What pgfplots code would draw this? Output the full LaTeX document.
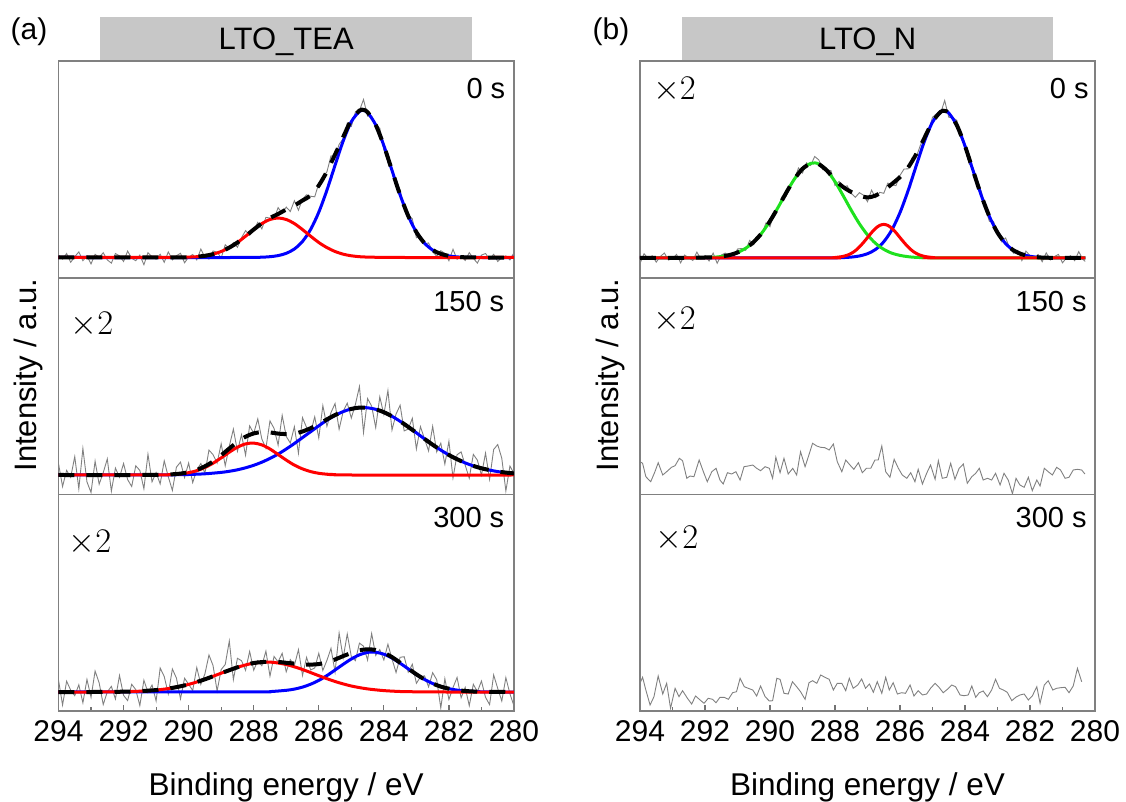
\documentclass[border=0pt]{standalone}
\usepackage{fontspec}
\setmainfont{Liberation Sans}
\usepackage{pgfplots}
\pgfplotsset{compat=1.18}
\definecolor{fitgreen}{RGB}{30,225,30}
\pgfplotsset{
  panel/.style={scale only axis, width=227.75pt, height=108.35pt,
    xmin=280, xmax=294, x dir=reverse, ymin=0, ymax=216.7,
    anchor=south west, ytick=\empty, xtick=\empty,
    axis line style={draw=black!50, line width=0.75pt}},
  bottompanel/.style={panel, xtick={280,282,...,294}, minor xtick={281,283,...,293},
    xtick pos=left, tick align=inside, major tick length=3pt, minor tick length=1.8pt,
    every tick/.style={draw=black!55, line width=0.6pt},
    xticklabel style={font=\fontsize{15}{18}\selectfont, yshift=-1pt},
    /pgf/number format/assume math mode=true},
  raw/.style={draw=black!50, line width=0.45pt, mark=none},
  fitb/.style={draw=blue, line width=1.5pt, mark=none, smooth},
  fitr/.style={draw=red, line width=1.5pt, mark=none, smooth},
  fitg/.style={draw=fitgreen, line width=1.5pt, mark=none, smooth},
  env/.style={draw=black, line width=2pt, dash pattern=on 8pt off 6pt, mark=none, smooth},
}
\begin{document}
\begin{tikzpicture}
\path[use as bounding box] (0,0) rectangle (563pt,-401pt);
\fill[black!22] (50.15pt,-8.35pt) rectangle (236.1pt,-30.5pt);
\fill[black!22] (341.1pt,-8.35pt) rectangle (526.6pt,-30.5pt);

% ---------- (a) 0 s ----------
\begin{axis}[panel, at={(29.25pt,-138.75pt)}]
\addplot[raw] coordinates {(294,22.4) (293.875,18.4) (293.75,24) (293.625,15.2) (293.5,20.8) (293.375,25.6) (293.25,16.8) (293.125,21.6) (293,13.6) (292.875,23.2) (292.75,20) (292.625,24.8) (292.5,17.6) (292.375,14.4) (292.25,24) (292.125,21.6) (292,16) (291.875,26.4) (291.75,19.2) (291.625,16.8) (291.5,22.4) (291.375,12.8) (291.25,24.8) (291.125,20.8) (291,18.4) (290.875,23.2) (290.75,15.2) (290.625,25.6) (290.5,17.7) (290.375,21.8) (290.25,24.2) (290.125,14.7) (290,20.4) (289.875,23.0) (289.75,17.6) (289.625,28.4) (289.5,20.1) (289.375,18.4) (289.25,26.5) (289.125,25.4) (289,19.6) (288.875,32.7) (288.75,29.1) (288.625,34.8) (288.5,30.2) (288.375,39.7) (288.25,46.9) (288.125,42.2) (288,47.2) (287.875,55.1) (287.75,48.6) (287.625,60.1) (287.5,59.5) (287.375,58.3) (287.25,69.9) (287.125,64.2) (287,70.4) (286.875,66) (286.75,76.8) (286.625,67.3) (286.5,78.6) (286.375,82.7) (286.25,81.2) (286.125,80.7) (286,94) (285.875,100.9) (285.75,105.6) (285.625,121.6) (285.5,120.8) (285.375,133.1) (285.25,138.9) (285.125,154.3) (285,151.1) (284.875,165.4) (284.75,166.9) (284.625,178) (284.5,161.3) (284.375,161.6) (284.25,151.8) (284.125,149.4) (284,127.1) (283.875,122.9) (283.75,104.7) (283.625,93.2) (283.5,87.4) (283.375,68.5) (283.25,62.3) (283.125,58.6) (283,39.7) (282.875,41.9) (282.75,33.5) (282.625,34.6) (282.5,25.8) (282.375,21.3) (282.25,26.8) (282.125,24.1) (282,16.8) (281.875,28.2) (281.75,18.2) (281.625,21.2) (281.5,17) (281.375,24.9) (281.25,19.2) (281.125,14.4) (281,22.4) (280.875,24) (280.75,18.4) (280.625,23.2) (280.5,16) (280.375,20) (280.25,21.6) (280.125,17.6) (280,24.8)};
\addplot[fitb] coordinates {(294,20) (288.5,20) (288,20.1) (287.75,20.3) (287.5,20.8) (287.25,21.9) (287,24.2) (286.75,28.5) (286.5,36.1) (286.25,48.1) (286,65.3) (285.75,87.3) (285.5,112.2) (285.25,136.5) (285,155.8) (284.75,166.1) (284.625,167.0) (284.5,164.9) (284.25,152.6) (284,131.9) (283.75,107.1) (283.5,82.6) (283.25,61.5) (283,45.3) (282.75,34.3) (282.5,27.4) (282.25,23.6) (282,21.6) (281.75,20.6) (281.5,20.2) (281,20) (280,20)};
\addplot[fitr] coordinates {(294,20) (290.5,20.1) (290,20.4) (289.75,20.8) (289.5,21.7) (289.25,23.3) (289,26.0) (288.75,29.9) (288.5,35.0) (288.25,41.3) (288,47.9) (287.75,53.9) (287.5,58.0) (287.25,59.5) (287,58.0) (286.75,53.9) (286.5,47.9) (286.25,41.3) (286,35.0) (285.75,29.9) (285.5,26.0) (285.25,23.3) (285,21.7) (284.75,20.8) (284.5,20.4) (284,20.1) (283.5,20) (280,20)};
\addplot[env] coordinates {(294,20) (290.5,20.1) (290,20.4) (289.75,20.8) (289.5,21.7) (289.25,23.3) (289,26.0) (288.75,29.9) (288.5,35.0) (288.25,41.3) (288,48.0) (287.75,54.2) (287.5,59.5) (287.25,63.5) (287,68) (286.75,72) (286.5,77) (286.25,82) (286,92) (285.75,106) (285.5,123) (285.25,140.5) (285,157.5) (284.75,166.9) (284.625,167.6) (284.5,165.3) (284.25,152.6) (284,131.9) (283.75,107.1) (283.5,82.6) (283.25,61.5) (283,45.3) (282.75,34.3) (282.5,27.4) (282.25,23.6) (282,21.6) (281.75,20.6) (281.5,20.2) (281,20) (280,20)};
\end{axis}

% ---------- (a) 150 s ----------
\begin{axis}[panel, at={(29.25pt,-247.25pt)}]
\addplot[raw] coordinates {(294,31.0) (293.875,8.0) (293.75,24.1) (293.625,17.2) (293.5,37.9) (293.375,5.7) (293.25,46) (293.125,12.6) (293,2) (292.875,33.3) (292.75,10.3) (292.625,21.8) (292.5,35.6) (292.375,3.4) (292.25,26.4) (292.125,17.2) (292,31.0) (291.875,14.9) (291.75,8.0) (291.625,28.7) (291.5,24.1) (291.375,5.7) (291.25,40.3) (291.125,12.7) (291,22.0) (290.875,10.6) (290.75,33.7) (290.625,17.7) (290.5,4.1) (290.375,27.4) (290.25,32.4) (290.125,17.0) (290,31.5) (289.875,11.9) (289.75,24.6) (289.625,31.0) (289.5,21.3) (289.375,44.4) (289.25,39.9) (289.125,31.5) (289,50.7) (288.875,28.8) (288.75,48.3) (288.625,65.4) (288.5,43.3) (288.375,59.8) (288.25,39.4) (288.125,68.7) (288,61.1) (287.875,75.6) (287.75,55.5) (287.625,46.2) (287.5,73.6) (287.375,66.1) (287.25,49.4) (287.125,79.1) (287,58.1) (286.875,51.4) (286.75,67.8) (286.625,41.3) (286.5,76.8) (286.375,67.0) (286.25,61.9) (286.125,77.7) (286,56.6) (285.875,88.9) (285.75,68.2) (285.625,81.9) (285.5,91.0) (285.375,65.2) (285.25,83.1) (285.125,91.3) (285,76.4) (284.875,90) (284.75,108) (284.625,62) (284.5,95.9) (284.375,88.4) (284.25,66.9) (284.125,97.7) (284,80.0) (283.875,104) (283.75,64.5) (283.625,80.4) (283.5,89.3) (283.375,63.6) (283.25,65.4) (283.125,76.2) (283,45.6) (282.875,67.9) (282.75,55.7) (282.625,43.6) (282.5,68.2) (282.375,42.5) (282.25,51.3) (282.125,30.4) (282,53.3) (281.875,16.6) (281.75,39.8) (281.625,42.6) (281.5,29.3) (281.375,16.3) (281.25,40.1) (281.125,34.3) (281,19.3) (280.875,41.4) (280.75,15.2) (280.625,45) (280.5,50) (280.375,36.2) (280.25,3.5) (280.125,28.4) (280,21.1)};
\addplot[fitb] coordinates {(294,19.5) (291,19.6) (290.5,19.7) (290,20.0) (289.5,20.7) (289,22.1) (288.75,23.2) (288.5,24.7) (288.25,26.7) (288,29.2) (287.75,32.3) (287.5,36.1) (287.25,40.4) (287,45.5) (286.75,51.0) (286.5,56.9) (286.25,62.8) (286,68.7) (285.75,74.3) (285.5,79.1) (285.25,82.9) (285,85.6) (284.75,86.9) (284.5,86.7) (284.25,85.2) (284,82.3) (283.75,78.2) (283.5,73.2) (283.25,67.6) (283,61.7) (282.75,55.6) (282.5,49.8) (282.25,44.4) (282,39.5) (281.75,35.3) (281.5,31.6) (281.25,28.6) (281,26.2) (280.75,24.4) (280.5,22.9) (280.25,21.9) (280,21.1)};
\addplot[fitr] coordinates {(294,19.5) (291,19.6) (290.5,20.0) (290.25,20.6) (290,21.8) (289.75,23.8) (289.5,27.0) (289.25,31.3) (289,36.6) (288.75,42.3) (288.5,47.3) (288.25,50.6) (288,51.4) (287.75,49.6) (287.5,45.5) (287.25,40.0) (287,34.4) (286.75,29.4) (286.5,25.6) (286.25,22.9) (286,21.2) (285.75,20.3) (285.5,19.9) (285,19.5) (280,19.5)};
\addplot[env] coordinates {(294,19.5) (291.5,19.5) (291.25,19.6) (291,19.7) (290.75,19.9) (290.5,20.2) (290.25,20.9) (290,22.3) (289.75,24.6) (289.5,28.2) (289.25,33.0) (289,39.2) (288.75,46.0) (288.5,52.5) (288.25,57.8) (288,61.1) (287.75,62.4) (287.5,62.1) (287.25,60.9) (287,60.4) (286.75,60.9) (286.5,63.0) (286.25,66.3) (286,70.4) (285.75,75.1) (285.5,79.5) (285.25,83.0) (285,85.6) (284.75,86.9) (284.5,86.7) (284.25,85.2) (284,82.3) (283.75,78.2) (283.5,73.2) (283.25,67.6) (283,61.7) (282.75,55.6) (282.5,49.8) (282.25,44.4) (282,39.5) (281.75,35.3) (281.5,31.6) (281.25,28.6) (281,26.2) (280.75,24.4) (280.5,22.9) (280.25,21.9) (280,21.1)};
\end{axis}

% ---------- (a) 300 s ----------
\begin{axis}[bottompanel, at={(29.25pt,-355.5pt)}]
\addplot[raw] coordinates {(294,31) (293.875,6) (293.75,29.8) (293.625,20.8) (293.5,15.4) (293.375,26.2) (293.25,8.2) (293.125,31.6) (293,13.6) (292.875,40) (292.75,28.1) (292.625,6.5) (292.5,19.1) (292.375,24.6) (292.25,12.0) (292.125,35.5) (292,15.7) (291.875,10.4) (291.75,26.7) (291.625,21.4) (291.5,5.4) (291.375,30.8) (291.25,18.5) (291.125,26.0) (291,10.1) (290.875,43) (290.75,34.5) (290.625,17.1) (290.5,42) (290.375,32.9) (290.25,12.1) (290.125,32.8) (290,26.6) (289.875,20.6) (289.75,43.4) (289.625,26.7) (289.5,37.1) (289.375,56) (289.25,45.5) (289.125,20.0) (289,41.4) (288.875,46.5) (288.75,70) (288.625,31.4) (288.5,52.7) (288.375,50.3) (288.25,40.7) (288.125,59.6) (288,40.8) (287.875,50.3) (287.75,45.3) (287.625,59.9) (287.5,34.9) (287.375,54.6) (287.25,49.1) (287.125,57.7) (287,39.2) (286.875,51.4) (286.75,45.6) (286.625,61.3) (286.5,35.6) (286.375,53.6) (286.25,41.0) (286.125,43.0) (286,57.7) (285.875,40.6) (285.75,50.6) (285.625,62.7) (285.5,38.9) (285.375,78) (285.25,53.1) (285.125,77) (285,54.4) (284.875,50.3) (284.75,67.9) (284.625,64.8) (284.5,50.9) (284.375,77.5) (284.25,55.6) (284.125,61.4) (284,51.0) (283.875,66.8) (283.75,52.1) (283.625,38.5) (283.5,53.7) (283.375,54.3) (283.25,38.8) (283.125,46.7) (283,27.7) (282.875,34.1) (282.75,35.2) (282.625,24.1) (282.5,38.3) (282.375,31.3) (282.25,3) (282.125,32.3) (282,11.5) (281.875,23.4) (281.75,33.5) (281.625,13.2) (281.5,23.6) (281.375,5.3) (281.25,26.7) (281.125,19.3) (281,30.0) (280.875,13.7) (280.75,6.4) (280.625,36) (280.5,22.6) (280.375,10.0) (280.25,33.4) (280.125,17.2) (280,5)};
\addplot[fitb] coordinates {(294,19) (288,19.1) (287.5,19.4) (287,20.7) (286.75,21.9) (286.5,23.9) (286.25,26.8) (286,30.6) (285.75,35.4) (285.5,41.0) (285.25,46.7) (285,52.0) (284.75,56.2) (284.5,58.6) (284.35,59.0) (284.25,58.8) (284,56.8) (283.75,53.0) (283.5,47.8) (283.25,42.1) (283,36.5) (282.75,31.5) (282.5,27.5) (282.25,24.4) (282,22.3) (281.75,20.9) (281.5,20.0) (281,19.2) (280.5,19) (280,19)};
\addplot[fitr] coordinates {(294,19) (293,19.0) (292.5,19.1) (292,19.3) (291.5,19.8) (291,20.9) (290.5,23.1) (290,26.6) (289.5,31.7) (289,37.8) (288.5,43.7) (288,47.9) (287.5,48.9) (287,46.5) (286.5,41.5) (286,35.3) (285.5,29.5) (285,25.0) (284.5,22.1) (284,20.4) (283.5,19.5) (283,19.2) (282.5,19.05) (282,19) (280,19)};
\addplot[env] coordinates {(294,19) (293,19.0) (292.5,19.1) (292.25,19.2) (292,19.3) (291.75,19.5) (291.5,19.8) (291.25,20.3) (291,20.9) (290.75,21.9) (290.5,23.1) (290.25,24.7) (290,26.6) (289.75,29.0) (289.5,31.7) (289.25,34.7) (289,37.8) (288.75,40.8) (288.5,43.7) (288.25,46.1) (288,48.0) (287.75,48.9) (287.5,49.3) (287.25,49.1) (287,48.2) (286.75,47.4) (286.5,46.4) (286.25,46.4) (286,46.9) (285.75,48.8) (285.5,51.5) (285.25,54.9) (285,58.0) (284.75,60.7) (284.5,61.7) (284.25,61.0) (284,58.2) (283.75,53.9) (283.5,48.3) (283.25,42.4) (283,36.7) (282.75,31.6) (282.5,27.5) (282.25,24.4) (282,22.3) (281.75,20.9) (281.5,20.0) (281.25,19.5) (281,19.2) (280.75,19.05) (280,19)};
\end{axis}

% ---------- (b) 0 s ----------
\begin{axis}[panel, at={(320pt,-138.75pt)}, width=227.5pt]
\addplot[raw] coordinates {(294,14.0) (293.875,23.8) (293.75,18.9) (293.625,21.7) (293.5,15.4) (293.375,21.0) (293.25,24.5) (293.125,17.5) (293,18.9) (292.875,23.1) (292.75,14.7) (292.625,22.4) (292.5,19.7) (292.375,17.0) (292.25,25.4) (292.125,18.4) (292,22.0) (291.875,16.5) (291.75,24.4) (291.625,14.2) (291.5,22.4) (291.375,24.4) (291.25,21.7) (291.125,19.3) (291,28.5) (290.875,29.0) (290.75,27.1) (290.625,37.1) (290.5,32.8) (290.375,40.5) (290.25,43.2) (290.125,54.4) (290,50.8) (289.875,65.3) (289.75,70.2) (289.625,81.0) (289.5,81.3) (289.375,93.1) (289.25,97.7) (289.125,109.5) (289,104.5) (288.875,114.6) (288.75,112.0) (288.625,121) (288.5,117.7) (288.375,107.8) (288.25,107.7) (288.125,106.9) (288,92.1) (287.875,96.1) (287.75,90.3) (287.625,91.7) (287.5,84.1) (287.375,80.2) (287.25,84.8) (287.125,82.4) (287,75.8) (286.875,87.3) (286.75,79.9) (286.625,85.2) (286.5,84.2) (286.375,94.4) (286.25,92.8) (286.125,91.8) (286,102.1) (285.875,108.5) (285.75,108.6) (285.625,119.8) (285.5,120.5) (285.375,132) (285.25,141.4) (285.125,145.9) (285,160.2) (284.875,163.8) (284.75,164.3) (284.625,177) (284.5,160.3) (284.375,159.7) (284.25,157.1) (284.125,139.7) (284,132.9) (283.875,113.7) (283.75,109.5) (283.625,94.5) (283.5,86.4) (283.375,69.3) (283.25,56.2) (283.125,56.1) (283,46.3) (282.875,35.7) (282.75,39.5) (282.625,29.6) (282.5,24.2) (282.375,27.2) (282.25,16.9) (282.125,26.4) (282,21.9) (281.875,19.3) (281.75,23.0) (281.625,15.8) (281.5,24.7) (281.375,17.6) (281.25,21.0) (281.125,23.1) (281,14.7) (280.875,19.6) (280.75,21.7) (280.625,16.8) (280.5,25.9) (280.375,18.2) (280.3,16.1)};
\addplot[fitb] coordinates {(294,19.6) (288.5,19.6) (288,19.7) (287.75,19.9) (287.5,20.4) (287.25,21.5) (287,23.8) (286.75,28.1) (286.5,35.7) (286.25,47.7) (286,64.9) (285.75,86.9) (285.5,111.8) (285.25,136.1) (285,155.4) (284.75,165.7) (284.625,166.6) (284.5,164.5) (284.25,152.2) (284,131.5) (283.75,106.7) (283.5,82.2) (283.25,61.1) (283,44.9) (282.75,33.9) (282.5,27.0) (282.25,23.2) (282,21.2) (281.75,20.2) (281.5,19.8) (281,19.6) (280.3,19.6)};
\addplot[fitg] coordinates {(294,19.6) (292.5,19.6) (292,19.9) (291.75,20.2) (291.5,21.0) (291.25,22.4) (291,25.0) (290.75,29.2) (290.5,35.6) (290.25,44.6) (290,56.4) (289.75,70.2) (289.5,84.8) (289.25,98.4) (289,108.7) (288.75,114.1) (288.625,114.6) (288.5,113.5) (288.25,107.0) (288,95.9) (287.75,81.9) (287.5,67.3) (287.25,53.8) (287,42.6) (286.75,34.1) (286.5,28.2) (286.25,24.3) (286,22.1) (285.75,20.8) (285.5,20.1) (285,19.7) (284.5,19.6) (280.3,19.6)};
\addplot[fitr] coordinates {(294,19.6) (288.25,19.6) (288,20.0) (287.75,21.1) (287.625,22.3) (287.5,24.1) (287.375,26.8) (287.25,30.5) (287.125,35.0) (287,39.9) (286.875,44.9) (286.75,49.2) (286.625,52.1) (286.5,53.1) (286.375,52.1) (286.25,49.2) (286.125,44.9) (286,39.9) (285.875,35.0) (285.75,30.5) (285.625,26.8) (285.5,24.1) (285.375,22.3) (285.25,21.1) (285,20.0) (284.75,19.6) (280.3,19.6)};
\addplot[env] coordinates {(294,19.6) (292.5,19.7) (292,20.0) (291.75,20.2) (291.5,21.0) (291.25,22.4) (291,25.0) (290.75,29.2) (290.5,35.6) (290.25,44.6) (290,56.4) (289.75,70.2) (289.5,84.8) (289.25,98.4) (289,108.7) (288.75,114.1) (288.625,114.6) (288.5,113.5) (288.25,107.0) (288,97.5) (287.75,90.5) (287.5,85.5) (287.25,82) (287,80) (286.75,82) (286.5,87) (286.25,93.5) (286,100.5) (285.75,110) (285.5,123.5) (285.25,139.5) (285,155.6) (284.75,165.7) (284.625,166.6) (284.5,164.5) (284.25,152.2) (284,131.5) (283.75,106.7) (283.5,82.2) (283.25,61.1) (283,44.9) (282.75,33.9) (282.5,27.0) (282.25,23.2) (282,21.2) (281.75,20.2) (281.5,19.8) (281,19.6) (280.3,19.6)};
\end{axis}

% ---------- (b) 150 s ----------
\begin{axis}[panel, at={(320pt,-247.25pt)}, width=227.5pt]
\addplot[raw] coordinates {(294.00,32.8) (293.92,31.2) (293.82,17.8) (293.67,12.8) (293.54,22.8) (293.44,31.8) (293.30,19.5) (293.18,22.8) (293.03,27.2) (292.92,28.8) (292.79,36.2) (292.69,33.8) (292.56,16.2) (292.46,18.5) (292.34,17.8) (292.18,34.5) (292.05,22.8) (291.93,12.8) (291.79,22.8) (291.66,26.2) (291.54,14.5) (291.44,10.5) (291.31,21.8) (291.18,20.5) (291.05,22.8) (290.92,14.5) (290.80,27.8) (290.67,28.5) (290.53,29.5) (290.41,26.2) (290.29,23.8) (290.15,27.8) (290.02,26.2) (289.92,16.2) (289.82,37.2) (289.69,21.8) (289.57,36.2) (289.44,20.5) (289.30,26.2) (289.18,19.5) (289.06,42.8) (288.92,27.8) (288.82,37.8) (288.69,51.2) (288.56,48.5) (288.44,47.2) (288.31,46.8) (288.18,44.5) (288.05,50.5) (287.93,32.8) (287.79,22.8) (287.67,34.5) (287.54,29.5) (287.42,25.2) (287.28,31.8) (287.16,21.8) (287.03,26.2) (286.90,26.2) (286.77,34.5) (286.67,34.5) (286.56,48.5) (286.44,22.8) (286.31,17.2) (286.18,35.2) (286.05,26.2) (285.93,19.5) (285.79,16.2) (285.67,21.8) (285.54,12.8) (285.44,25.2) (285.31,10.5) (285.18,21.2) (285.06,29.5) (284.92,15.2) (284.82,33.8) (284.70,16.2) (284.56,17.2) (284.44,31.2) (284.31,15.2) (284.18,26.2) (284.05,30.5) (283.93,11.2) (283.79,17.8) (283.67,21.2) (283.56,26.2) (283.44,14.5) (283.31,16.2) (283.18,14.5) (283.06,21.2) (282.92,9.5) (282.80,21.2) (282.67,14.5) (282.54,0.8) (282.43,16.2) (282.31,9.5) (282.18,7.2) (282.05,17.2) (281.93,3.8) (281.79,14.5) (281.69,8.5) (281.56,26.2) (281.44,22.8) (281.31,19.5) (281.18,27.2) (281.06,24.5) (280.92,16.2) (280.80,17.2) (280.67,24.5) (280.54,25.2) (280.41,24.5) (280.31,20.5)};
\end{axis}

% ---------- (b) 300 s ----------
\begin{axis}[bottompanel, at={(320pt,-355.5pt)}, width=227.5pt]
\addplot[raw] coordinates {(294.00,27.7) (293.92,33.7) (293.82,21.0) (293.69,6.0) (293.57,14.3) (293.44,35.0) (293.30,17.0) (293.18,27.7) (293.06,2.7) (292.92,22.7) (292.80,14.3) (292.69,20.3) (292.54,12.7) (292.41,7.0) (292.29,15.0) (292.15,11.0) (292.03,7.7) (291.90,12.7) (291.77,11.7) (291.66,8.3) (291.54,13.7) (291.41,13.7) (291.28,11.7) (291.15,18.3) (291.03,19.3) (290.92,32.7) (290.79,24.3) (290.67,22.7) (290.53,21.0) (290.41,15.0) (290.29,25.0) (290.15,14.3) (290.02,10.0) (289.92,10.3) (289.79,32.7) (289.69,31.7) (289.57,17.7) (289.44,17.0) (289.31,29.3) (289.18,24.3) (289.06,19.3) (288.92,11.7) (288.80,28.3) (288.69,30.3) (288.56,27.7) (288.44,36.0) (288.31,33.7) (288.18,31.7) (288.05,21.0) (287.93,27.7) (287.79,27.7) (287.67,20.3) (287.56,32.7) (287.44,22.7) (287.30,26.0) (287.18,32.0) (287.06,22.7) (286.94,27.0) (286.82,18.7) (286.70,29.3) (286.56,17.7) (286.44,33.7) (286.33,21.0) (286.21,28.3) (286.08,17.0) (285.95,18.3) (285.83,17.7) (285.69,26.0) (285.57,15.0) (285.44,20.3) (285.31,16.0) (285.18,17.0) (285.06,22.7) (284.92,27.7) (284.80,23.7) (284.67,18.3) (284.54,21.7) (284.41,26.0) (284.29,24.3) (284.15,16.0) (284.03,15.3) (283.90,16.0) (283.79,25.0) (283.67,13.7) (283.56,18.3) (283.44,20.0) (283.31,14.3) (283.18,21.0) (283.06,31.7) (282.94,22.7) (282.82,21.0) (282.70,18.7) (282.56,10.3) (282.44,13.7) (282.31,16.0) (282.18,17.0) (282.05,11.0) (281.93,15.0) (281.79,24.3) (281.69,7.7) (281.56,26.0) (281.44,30.3) (281.30,21.0) (281.18,22.7) (281.06,23.3) (280.92,23.7) (280.80,18.3) (280.67,25.0) (280.54,42.7) (280.41,29.3)};
\end{axis}

% ---------- texts ----------
\node[font=\fontsize{15}{18}\selectfont] at (14.5pt,-16pt) {(a)};
\node[font=\fontsize{15}{18}\selectfont] at (305.5pt,-16pt) {(b)};
\node[font=\fontsize{15.5}{18}\selectfont, anchor=base] at (143.1pt,-25pt) {LTO\_TEA};
\node[font=\fontsize{15.5}{18}\selectfont, anchor=base] at (433.8pt,-25pt) {LTO\_N};

\node[font=\fontsize{14.5}{17}\selectfont, anchor=base east, inner sep=0pt] at (252.8pt,-49.5pt) {0 s};
\node[font=\fontsize{14.5}{17}\selectfont, anchor=base east, inner sep=0pt] at (252.3pt,-155.8pt) {150 s};
\node[font=\fontsize{14.5}{17}\selectfont, anchor=base east, inner sep=0pt] at (252.3pt,-263.8pt) {300 s};
\node[font=\fontsize{14.5}{17}\selectfont, anchor=base east, inner sep=0pt] at (544.5pt,-49.5pt) {0 s};
\node[font=\fontsize{14.5}{17}\selectfont, anchor=base east, inner sep=0pt] at (543.5pt,-155.8pt) {150 s};
\node[font=\fontsize{14.5}{17}\selectfont, anchor=base east, inner sep=0pt] at (543.5pt,-263.8pt) {300 s};

\node[font=\fontsize{17.28}{20}\selectfont, anchor=base west, inner sep=0pt] at (35pt,-167.5pt) {$\times 2$};
\node[font=\fontsize{17.28}{20}\selectfont, anchor=base west, inner sep=0pt] at (34.1pt,-276.3pt) {$\times 2$};
\node[font=\fontsize{17.28}{20}\selectfont, anchor=base west, inner sep=0pt] at (326.3pt,-50pt) {$\times 2$};
\node[font=\fontsize{17.28}{20}\selectfont, anchor=base west, inner sep=0pt] at (326.3pt,-165pt) {$\times 2$};
\node[font=\fontsize{17.28}{20}\selectfont, anchor=base west, inner sep=0pt] at (327.5pt,-274.2pt) {$\times 2$};

\node[font=\fontsize{15.75}{18}\selectfont, anchor=base] at (143.1pt,-397.5pt) {Binding energy / eV};
\node[font=\fontsize{15.75}{18}\selectfont, anchor=base] at (433.8pt,-397.5pt) {Binding energy / eV};
\node[font=\fontsize{15.5}{18}\selectfont, anchor=base, rotate=90] at (18.3pt,-187.5pt) {Intensity / a.u.};
\node[font=\fontsize{15.5}{18}\selectfont, anchor=base, rotate=90] at (309.3pt,-187.5pt) {Intensity / a.u.};
\end{tikzpicture}
\end{document}
